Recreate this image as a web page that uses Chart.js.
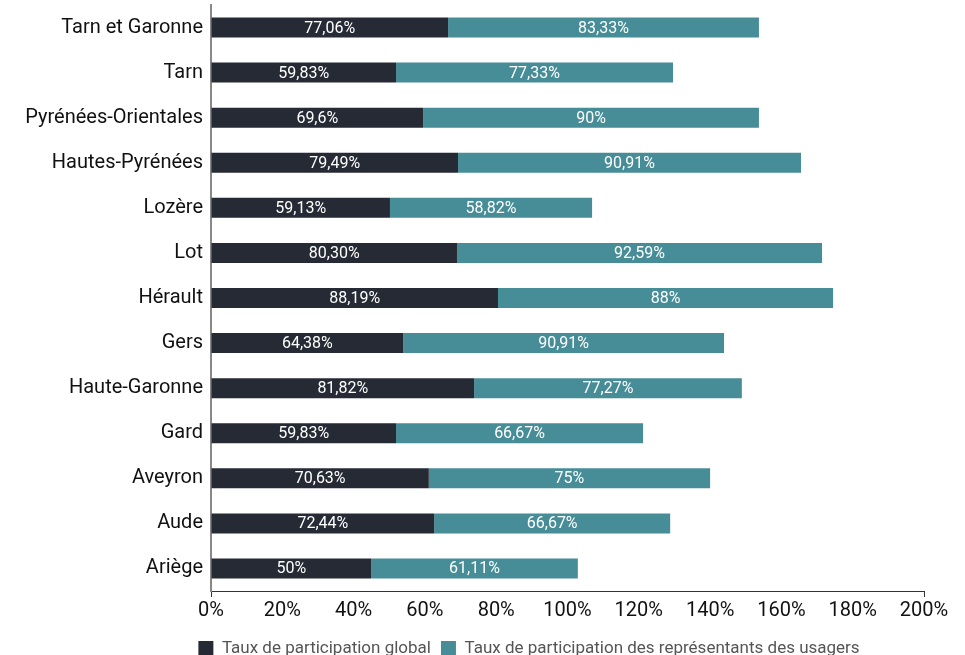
<!DOCTYPE html>
<html lang="fr">
<head>
<meta charset="UTF-8">
<script src="https://cdn.jsdelivr.net/npm/chart.js"></script>
<style>
  html, body { margin: 0; padding: 0; background: #fff; }
  #wrap { width: 965px; height: 655px; }
</style>
</head>
<body>
<div id="wrap"><canvas id="myChart"></canvas></div>
<script>
// departements, top to bottom
const departements = ['Tarn et Garonne', 'Tarn', 'Pyrénées-Orientales', 'Hautes-Pyrénées', 'Lozère', 'Lot',
  'Hérault', 'Gers', 'Haute-Garonne', 'Gard', 'Aveyron', 'Aude', 'Ariège'];

// bar lengths as drawn on the axis (in %)
const barGlobal = [66.5, 51.9, 59.5, 69.3, 50.2, 69.0, 80.5, 53.9, 73.8, 51.9, 61.1, 62.6, 44.9];
const barUsagers = [87.2, 77.7, 94.2, 96.2, 56.7, 102.4, 94.0, 90.0, 75.1, 69.3, 78.9, 66.2, 58.0];

// printed values
const labelsGlobal = ['77,06%', '59,83%', '69,6%', '79,49%', '59,13%', '80,30%', '88,19%', '64,38%', '81,82%',
  '59,83%', '70,63%', '72,44%', '50%'];
const labelsUsagers = ['83,33%', '77,33%', '90%', '90,91%', '58,82%', '92,59%', '88%', '90,91%', '77,27%',
  '66,67%', '75%', '66,67%', '61,11%'];

const xTicks = [0, 20, 40, 60, 80, 100, 120, 140, 160, 180, 200];

const fontName = 'Roboto, "DejaVu Sans", sans-serif';

// white value text in the middle of each segment
const valueLabels = {
  id: 'valueLabels',
  afterDatasetsDraw(chart) {
    const ctx = chart.ctx;
    const texts = [labelsGlobal, labelsUsagers];
    ctx.save();
    ctx.fillStyle = '#ffffff';
    ctx.font = '16px ' + fontName;
    ctx.textAlign = 'center';
    ctx.textBaseline = 'middle';
    chart.data.datasets.forEach((ds, i) => {
      chart.getDatasetMeta(i).data.forEach((bar, j) => {
        ctx.fillText(texts[i][j], (bar.x + bar.base) / 2, bar.y + 1);
      });
    });
    ctx.restore();
  }
};

// legend sits a bit right of the canvas centre and close to the bottom
const moveLegend = {
  id: 'moveLegend',
  afterLayout(chart) {
    const lg = chart.legend;
    lg.left += 67;
    lg.right += 67;
    lg.top += 12;
    lg.bottom += 12;
  }
};

const config = {
  type: 'bar',
  data: {
    labels: departements,
    datasets: [{
      label: 'Taux de participation global',
      data: barGlobal,
      backgroundColor: '#262a35'
    }, {
      label: 'Taux de participation des représentants des usagers',
      data: barUsagers,
      backgroundColor: '#478d97'
    }]
  },
  options: {
    indexAxis: 'y',
    responsive: true,
    maintainAspectRatio: false,
    animation: false,
    layout: { padding: { left: 0, right: 41, top: 5, bottom: 0 } },
    datasets: { bar: { categoryPercentage: 0.444, barPercentage: 1 } },
    plugins: {
      tooltip: { enabled: false },
      legend: {
        position: 'bottom',
        labels: {
          boxWidth: 15,
          boxHeight: 15,
          padding: 10,
          color: '#555',
          font: { family: fontName, size: 17 }
        }
      }
    },
    scales: {
      x: {
        stacked: true,
        min: 0,
        max: 200,
        afterBuildTicks: axis => { axis.ticks = xTicks.map(v => ({ value: v })); },
        afterFit: axis => { axis.height = 27; },
        grid: {
          drawOnChartArea: false,
          drawTicks: true,
          tickLength: 6,
          color: c => (c.tick && (c.tick.value === 0 || c.tick.value === 200)) ? '#333' : 'rgba(0,0,0,0)'
        },
        border: { display: true, color: '#333', width: 1 },
        ticks: {
          color: '#111',
          padding: 2,
          font: { family: fontName, size: 20 },
          callback: v => v + '%'
        }
      },
      y: {
        stacked: true,
        afterFit: axis => { axis.width = 211; axis.paddingTop = 0; axis.paddingBottom = 0; },
        grid: { display: false, drawTicks: false },
        border: { display: true, color: '#888', width: 2 },
        ticks: {
          color: '#111',
          padding: 8,
          font: { family: fontName, size: 20 }
        }
      }
    }
  },
  plugins: [valueLabels, moveLegend]
};

new Chart(document.getElementById('myChart'), config);
</script>
</body>
</html>
